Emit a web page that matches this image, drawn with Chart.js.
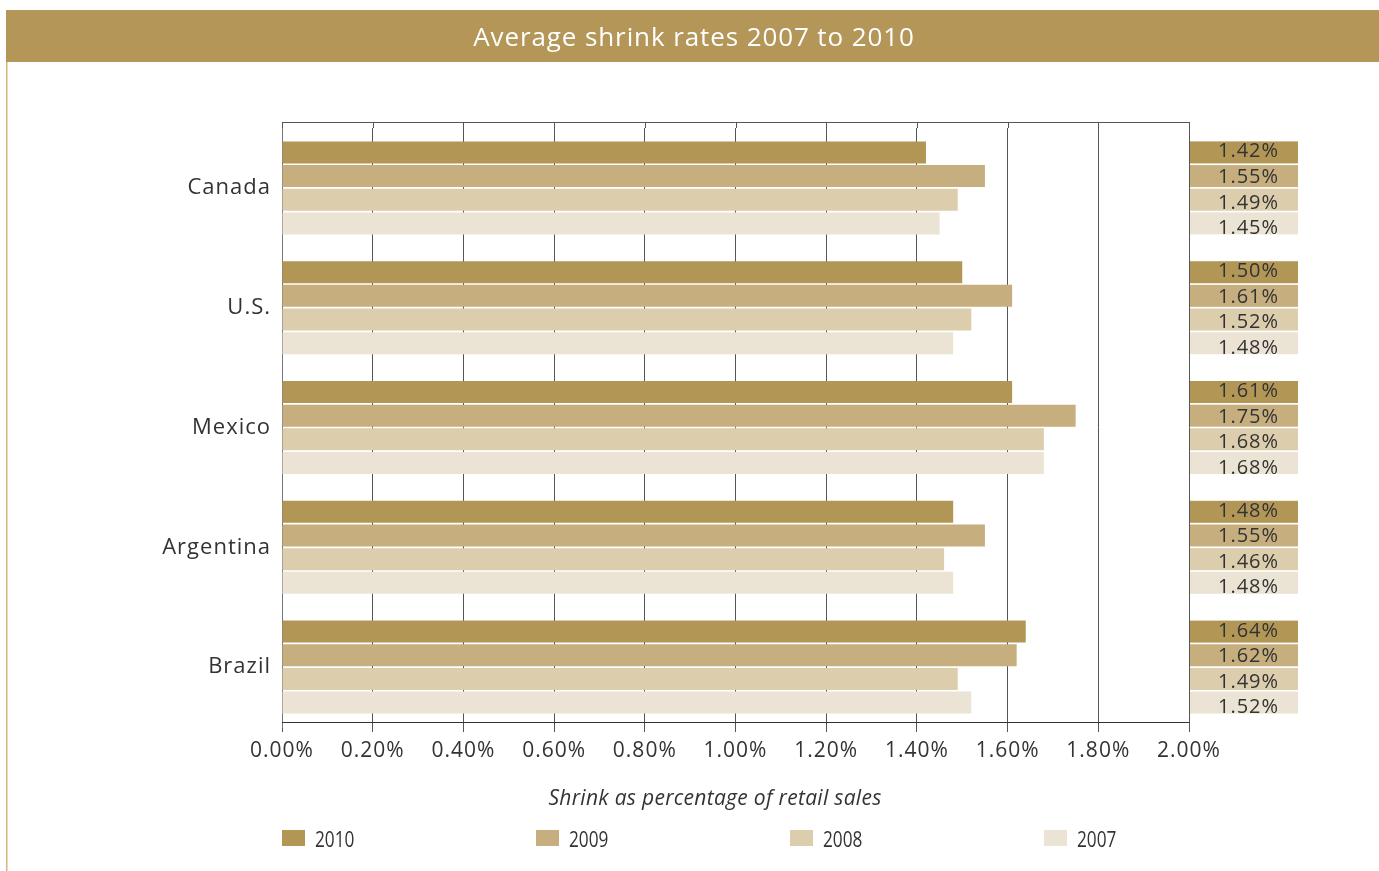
<!DOCTYPE html>
<html>
<head>
<meta charset="utf-8">
<title>Average shrink rates 2007 to 2010</title>
<script src="https://cdn.jsdelivr.net/npm/chart.js@4/dist/chart.umd.min.js"></script>
<style>
  html, body { margin: 0; padding: 0; background: #ffffff; }
  #wrap { width: 1379px; height: 871px; }
</style>
</head>
<body>
<div id="wrap"><canvas id="chart" width="1379" height="871"></canvas></div>
<script>
// Shrink as a percentage of retail sales, by country and year
const countries = ['Canada', 'U.S.', 'Mexico', 'Argentina', 'Brazil'];
const years = ['2010', '2009', '2008', '2007'];
const rates2010 = [1.42, 1.50, 1.61, 1.48, 1.64];
const rates2009 = [1.55, 1.61, 1.75, 1.55, 1.62];
const rates2008 = [1.49, 1.52, 1.68, 1.46, 1.49];
const rates2007 = [1.45, 1.48, 1.68, 1.48, 1.52];
const xTicks = [0, 0.2, 0.4, 0.6, 0.8, 1.0, 1.2, 1.4, 1.6, 1.8, 2.0];

const yearColors = ['#b29656', '#c6ae7f', '#dccdac', '#ebe4d4'];
const ink = '#333333';
const FONT = '"Open Sans", "Noto Sans", sans-serif';
const AXIS_Y = 722; // baseline of the value axis

const series = [rates2010, rates2009, rates2008, rates2007];

const datasets = years.map((y, i) => ({
  label: y,
  data: series[i],
  backgroundColor: yearColors[i],
  borderWidth: 0,
  categoryPercentage: 0.79,
  barPercentage: 0.93
}));

const frame = {
  id: 'frame',
  beforeDraw(chart) {
    const ctx = chart.ctx;
    // light tracking for the axis and value text
    ctx.letterSpacing = '1px';
    ctx.save();
    ctx.fillStyle = '#ffffff';
    ctx.fillRect(0, 0, chart.width, chart.height);
    // heading band
    ctx.fillStyle = '#b39658';
    ctx.fillRect(6, 10, chart.width - 6, 52);
    ctx.fillStyle = '#ffffff';
    ctx.letterSpacing = '0.9px';
    ctx.font = '26px ' + FONT;
    ctx.textAlign = 'center';
    ctx.textBaseline = 'alphabetic';
    ctx.fillText('Average shrink rates 2007 to 2010', 694, 46);
    // thin rule down the left side
    ctx.strokeStyle = '#d2b77c';
    ctx.lineWidth = 1.5;
    ctx.beginPath();
    ctx.moveTo(6.75, 62);
    ctx.lineTo(6.75, chart.height);
    ctx.stroke();
    ctx.restore();
  },
  beforeDatasetsDraw(chart) {
    const ctx = chart.ctx;
    const xs = chart.scales.x;
    const area = chart.chartArea;
    ctx.save();
    // carry the vertical grid up to the top frame line
    ctx.strokeStyle = '#555555';
    ctx.lineWidth = 1;
    ctx.beginPath();
    xTicks.forEach(v => {
      const px = Math.round(xs.getPixelForValue(v)) + 0.5;
      ctx.moveTo(px, 122);
      ctx.lineTo(px, area.top);
    });
    ctx.moveTo(area.left, 122.5);
    ctx.lineTo(area.right + 0.5, 122.5);
    ctx.stroke();
    // value axis line
    ctx.strokeStyle = '#333333';
    ctx.beginPath();
    ctx.moveTo(area.left, AXIS_Y + 0.5);
    ctx.lineTo(area.right + 0.5, AXIS_Y + 0.5);
    ctx.stroke();
    ctx.restore();
  },
  afterDraw(chart) {
    const ctx = chart.ctx;
    const xs = chart.scales.x;
    ctx.save();
    // value boxes at the right of every bar
    const boxLeft = xs.right + 1;
    const boxWidth = 108;
    chart.data.datasets.forEach((ds, i) => {
      const meta = chart.getDatasetMeta(i);
      meta.data.forEach((bar, j) => {
        const top = bar.y - bar.height / 2;
        ctx.fillStyle = ds.backgroundColor;
        ctx.fillRect(boxLeft, top, boxWidth, bar.height);
        ctx.fillStyle = ink;
        ctx.letterSpacing = '1px';
        ctx.font = '20px ' + FONT;
        ctx.textAlign = 'center';
        ctx.textBaseline = 'alphabetic';
        ctx.fillText(ds.data[j].toFixed(2) + '%', boxLeft + 58.5, bar.y + 5 + 1.9 * i);
      });
    });
    // axis caption
    ctx.fillStyle = ink;
    ctx.letterSpacing = '0.3px';
    ctx.font = 'italic 21px ' + FONT;
    ctx.textAlign = 'center';
    ctx.fillText('Shrink as percentage of retail sales', 715, 805);
    // legend
    ctx.letterSpacing = '0px';
    chart.data.datasets.forEach((ds, i) => {
      const x = 282 + 254 * i;
      ctx.fillStyle = ds.backgroundColor;
      ctx.fillRect(x, 830, 23, 16);
      ctx.save();
      ctx.translate(x + 33, 847);
      ctx.scale(0.82, 1);
      ctx.fillStyle = ink;
      ctx.font = '21px ' + FONT;
      ctx.textAlign = 'left';
      ctx.fillText(ds.label, 0, 0);
      ctx.restore();
    });
    ctx.restore();
  }
};

new Chart(document.getElementById('chart'), {
  type: 'bar',
  data: { labels: countries, datasets },
  plugins: [frame],
  options: {
    indexAxis: 'y',
    responsive: false,
    animation: false,
    layout: { padding: { left: 0, top: 128, right: 190, bottom: 0 } },
    plugins: {
      legend: { display: false },
      title: { display: false },
      tooltip: { enabled: false }
    },
    scales: {
      x: {
        type: 'linear',
        min: 0,
        max: 2,
        afterFit(scale) { scale.height = 871 - 727; },
        afterBuildTicks(scale) { scale.ticks = xTicks.map(v => ({ value: v })); },
        ticks: {
          color: ink,
          font: { family: FONT, size: 21 },
          padding: 6,
          maxRotation: 0,
          autoSkip: false,
          callback: v => Number(v).toFixed(2) + '%'
        },
        grid: {
          color: '#555555',
          lineWidth: 1,
          tickLength: 5,
          tickColor: '#555555'
        },
        border: { display: false }
      },
      y: {
        type: 'category',
        afterFit(scale) { scale.width = 282; },
        ticks: {
          color: ink,
          font: { family: FONT, size: 22 },
          padding: 11
        },
        grid: { display: false, drawTicks: false },
        border: { color: '#777777', width: 1 }
      }
    }
  }
});
</script>
</body>
</html>
